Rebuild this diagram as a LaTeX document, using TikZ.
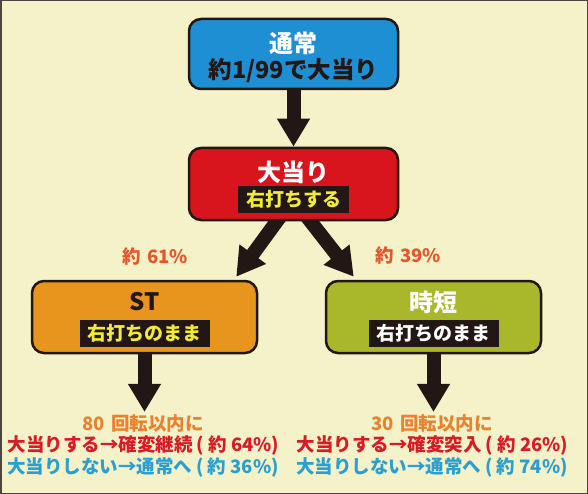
\documentclass[tikz,border=0pt]{standalone}
\usepackage{fontspec}
\setmainfont{Noto Sans CJK JP}
\usetikzlibrary{positioning,arrows.meta}
\definecolor{bgyellow}{HTML}{F5F1C9}
\definecolor{boxblue}{HTML}{1E8FD3}
\definecolor{boxred}{HTML}{D8141C}
\definecolor{boxorange}{HTML}{E8951E}
\definecolor{boxgreen}{HTML}{A9B82A}
\definecolor{rateorange}{HTML}{E4572A}
\definecolor{countorange}{HTML}{E8822E}
\definecolor{hitred}{HTML}{D81B25}
\definecolor{missblue}{HTML}{2A9FD0}
\definecolor{tagyellow}{HTML}{F2E93A}
\definecolor{ink}{HTML}{221714}
\pgfdeclarelayer{back}
\pgfdeclarelayer{arrows}
\pgfsetlayers{back,arrows,main}
\newcommand{\gap}{\hspace{0.35em}}
\tikzset{flow box/.style={rectangle,rounded corners=12pt,draw=ink,line width=2.5pt,minimum width=209pt,minimum height=70pt},
title/.style={font=\bfseries\fontsize{24}{24}\selectfont,inner sep=0pt},
tag/.style={fill=ink,font=\bfseries\fontsize{19}{19}\selectfont,inner xsep=8pt,inner ysep=0pt,minimum height=27pt},
rate/.style={font=\bfseries\fontsize{18.5}{18.5}\selectfont,text=rateorange,inner sep=0pt},
result/.style={font=\bfseries\fontsize{18.5}{18.5}\selectfont,inner sep=0pt},
big arrow/.style={line width=14pt,-{Triangle[width=31pt,length=28pt]},ink}
}
\begin{document}
\begin{tikzpicture}[x=1pt,y=1pt]
	\useasboundingbox (0,0) rectangle (588,-494);
	\begin{pgfonlayer}{back}
		\fill[bgyellow] (0,0) rectangle (588,-494);
		\draw[ink!80,line width=1.5pt] (0.75,-0.75) rectangle (587.25,-493.25);
	\end{pgfonlayer}
	
	% boxes
	\node[flow box,fill=boxblue] (normal) at (293.5,-54) {};
	\node[title,text=white] (normal title) at ([yshift=11pt]normal.center) {通常};
	\node[title,font=\bfseries\fontsize{23.5}{23.5}\selectfont,text=ink] (normal odds) at ([yshift=-17pt]normal.center) {約1/99で大当り};
	
	\node[flow box,fill=boxred,minimum height=72pt] (hit) at (293.5,-184) {};
	\node[title,text=white] (hit title) at ([yshift=12pt]hit.center) {大当り};
	\node[tag,text=tagyellow] (hit tag) at ([yshift=-15.5pt]hit.center) {右打ちする};
	
	\node[flow box,fill=boxorange,minimum width=225pt,minimum height=72pt] (st) at (144.5,-317) {};
	\node[title,text=ink] (st title) at ([yshift=15pt]st.center) {ST};
	\node[tag,text=tagyellow] (st tag) at ([yshift=-16pt]st.center) {右打ちのまま};
	
	\node[flow box,fill=boxgreen,minimum width=215pt,minimum height=72pt] (jitan) at (433.5,-317) {};
	\node[title,text=white] (jitan title) at ([yshift=15pt]jitan.center) {時短};
	\node[tag,text=white] (jitan tag) at ([yshift=-16pt]jitan.center) {右打ちのまま};
	
	% rates
	\node[rate] (st rate) at (155,-256) {約\gap{}61\%};
	\node[rate] (jitan rate) at (408,-255) {約\gap{}39\%};
	
	% results
	\node[result,text=countorange] (st count) at (143,-423) {80\gap{}回転以内に};
	\node[result,text=hitred] (st hit) at (143.5,-445) {大当りする→確変継続 ( 約 64\%)};
	\node[result,text=missblue] (st miss) at (143,-467) {大当りしない→通常へ ( 約 36\%)};
	
	\node[result,text=countorange] (jitan count) at (432,-423) {30\gap{}回転以内に};
	\node[result,text=hitred] (jitan hit) at (432.5,-445) {大当りする→確変突入 ( 約 26\%)};
	\node[result,text=missblue] (jitan miss) at (432,-467) {大当りしない→通常へ ( 約 74\%)};
	
	\begin{pgfonlayer}{arrows}
		\draw[big arrow] ([yshift=5pt]normal.south) -- (hit.north);
		\draw[big arrow] ([xshift=-13pt,yshift=5pt]hit.south) -- ([xshift=-22pt,yshift=3pt]st.north east);
		\draw[big arrow] ([xshift=13pt,yshift=5pt]hit.south) -- ([xshift=29pt,yshift=3pt]jitan.north west);
		\draw[big arrow] ([yshift=5pt]st.south) -- ([yshift=2pt]st.south |- st count.north);
		\draw[big arrow] ([yshift=5pt]jitan.south) -- ([yshift=2pt]jitan.south |- jitan count.north);
	\end{pgfonlayer}
	
\end{tikzpicture}
\end{document}
